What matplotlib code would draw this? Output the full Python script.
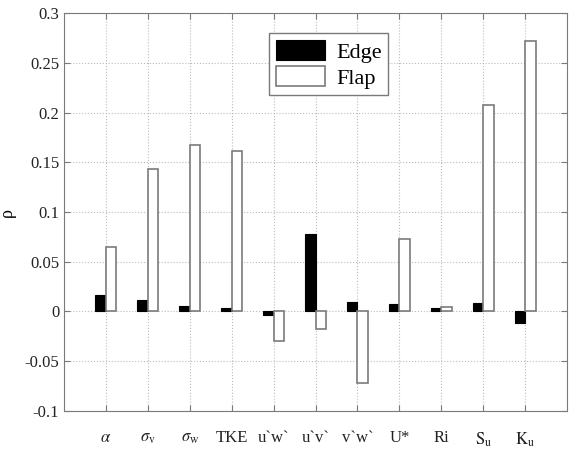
import matplotlib
matplotlib.use('Agg')
import matplotlib.pyplot as plt
import numpy as np

plt.rcParams['font.family'] = ['Liberation Serif', 'DejaVu Serif']
plt.rcParams['mathtext.fontset'] = 'stix'

labels = [r'$\alpha$', r'$\sigma_{\rm v}$', r'$\sigma_{\rm w}$', 'TKE', 'u`w`', 'u`v`',
          'v`w`', 'U*', 'Ri', r'$\rm S_u$', r'$\rm K_u$']
edge = [0.017, 0.0115, 0.0055, 0.003, -0.004, 0.078, 0.009, 0.007, 0.003, 0.008, -0.012]
flap = [0.065, 0.143, 0.167, 0.161, -0.030, -0.018, -0.072, 0.073, 0.004, 0.208, 0.272]

grey = '#7a7a7a'
fig = plt.figure(figsize=(5.69, 4.55), dpi=100)
ax = fig.add_axes([0.1125, 0.097, 0.884, 0.874])

x = np.arange(1, len(labels) + 1)
w = 0.25
ax.bar(x - w / 2, edge, w, color='black', edgecolor='black', linewidth=0.8, label='Edge', zorder=3)
ax.bar(x + w / 2, flap, w, color='white', edgecolor=grey, linewidth=1.2, label='Flap', zorder=3)

ax.set_xlim(0, 12)
ax.set_ylim(-0.1, 0.3)
ax.set_xticks(x)
ax.set_xticklabels(labels, fontsize=13)
ax.set_yticks(np.arange(-0.1, 0.31, 0.05))
ax.set_yticklabels(['-0.1', '-0.05', '0', '0.05', '0.1', '0.15', '0.2', '0.25', '0.3'])
ax.tick_params(direction='in', top=True, right=True, length=4, color=grey,
               labelsize=12, labelcolor='#222222')
ax.tick_params(axis='x', pad=14)
for s in ax.spines.values():
    s.set_color(grey)
ax.grid(True, linestyle=':', color='#bbbbbb', linewidth=0.8, zorder=0)
ax.set_axisbelow(True)
ax.set_ylabel('ρ', fontsize=13, labelpad=6)

leg = ax.legend(loc='upper left', bbox_to_anchor=(0.386, 0.977), fontsize=16,
                fancybox=False, edgecolor=grey, framealpha=1, handlelength=2.2,
                handleheight=1.0, borderpad=0.3, labelspacing=0.15, handletextpad=0.5)
leg.get_frame().set_linewidth(1.0)

plt.savefig('out.png', dpi=100)
plt.close()
